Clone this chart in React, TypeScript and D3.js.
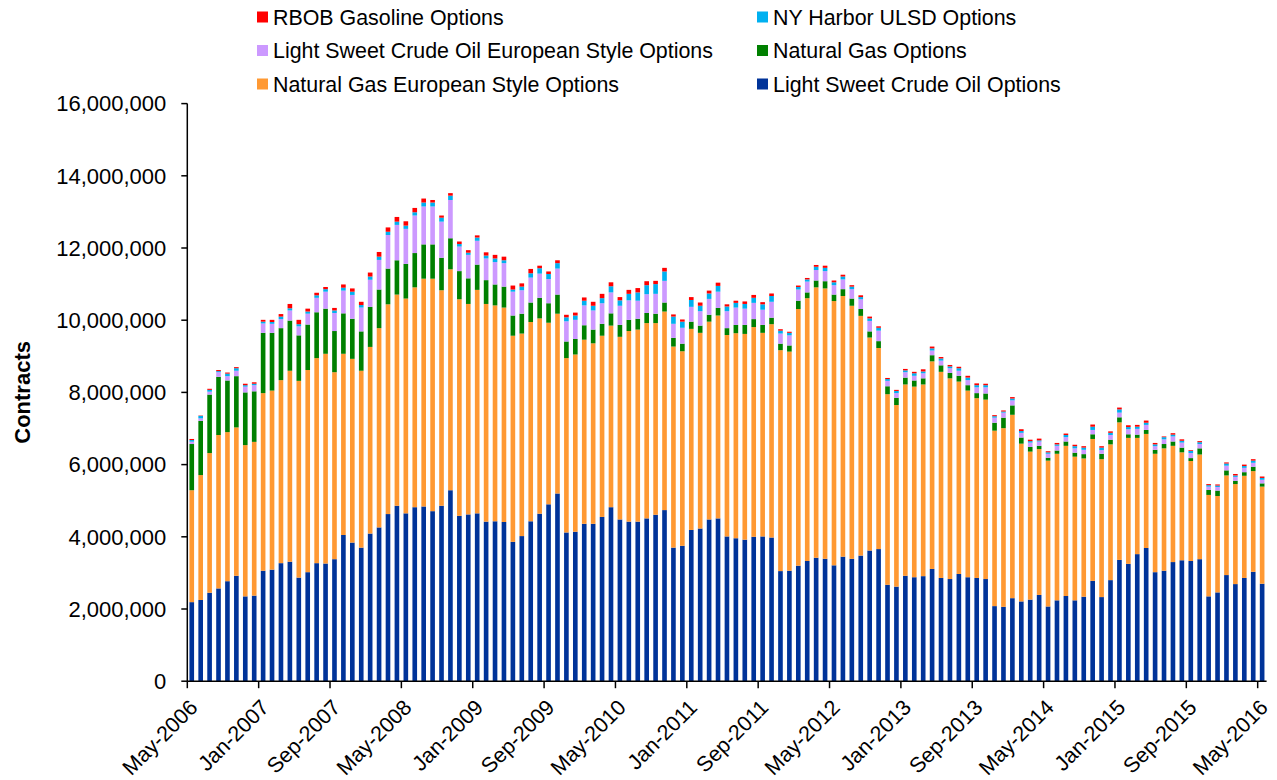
import * as d3 from "d3";

// monthly categories, May-2006 .. May-2016
const months = d3.timeMonth.range(new Date(2006, 4, 1), new Date(2016, 5, 1));
const tickLabels = [
  "May-2006", "Jan-2007", "Sep-2007", "May-2008", "Jan-2009", "Sep-2009",
  "May-2010", "Jan-2011", "Sep-2011", "May-2012", "Jan-2013", "Sep-2013",
  "May-2014", "Jan-2015", "Sep-2015", "May-2016",
];
const yTicks = [0, 2e6, 4e6, 6e6, 8e6, 10e6, 12e6, 14e6, 16e6];

// values in millions of contracts
const crudeOil = [
  2.19, 2.25, 2.45, 2.57, 2.77, 2.92, 2.35, 2.37, 3.06, 3.09, 3.27, 3.31, 2.87, 3.02, 3.27, 3.26, 3.38, 4.05, 3.84, 3.7,
  4.09, 4.26, 4.63, 4.86, 4.65, 4.82, 4.84, 4.71, 4.86, 5.29, 4.58, 4.62, 4.65, 4.42, 4.43, 4.41, 3.86, 4.02, 4.43, 4.64,
  4.9, 5.2, 4.12, 4.14, 4.36, 4.36, 4.55, 4.82, 4.48, 4.42, 4.42, 4.51, 4.61, 4.74, 3.7, 3.75, 4.19, 4.23, 4.48, 4.51, 4.01,
  3.96, 3.92, 4.0, 4.01, 3.98, 3.05, 3.06, 3.2, 3.33, 3.42, 3.39, 3.21, 3.45, 3.39, 3.48, 3.62, 3.66, 2.67, 2.62, 2.92,
  2.88, 2.91, 3.11, 2.86, 2.83, 2.97, 2.88, 2.86, 2.83, 2.08, 2.06, 2.3, 2.21, 2.26, 2.39, 2.07, 2.24, 2.36, 2.24, 2.34, 2.78,
  2.33, 2.8, 3.36, 3.25, 3.52, 3.69, 3.02, 3.06, 3.3, 3.35, 3.33, 3.38, 2.35, 2.46, 2.94, 2.69, 2.86, 3.03, 2.7,
];
const natGasEuro = [
  3.1, 3.46, 3.87, 4.25, 4.13, 4.11, 4.19, 4.26, 4.92, 4.96, 5.07, 5.29, 5.45, 5.6, 5.68, 5.81, 5.18, 5.02, 5.09, 4.9,
  5.17, 5.52, 5.81, 5.85, 5.95, 6.09, 6.31, 6.44, 5.97, 6.12, 6.0, 5.83, 6.19, 6.03, 5.98, 5.94, 5.71, 5.61, 5.52, 5.41,
  5.03, 4.98, 4.83, 4.91, 5.1, 5.0, 5.02, 5.03, 5.06, 5.28, 5.32, 5.41, 5.31, 5.5, 5.57, 5.39, 5.57, 5.42, 5.48, 5.62, 5.58,
  5.68, 5.7, 5.81, 5.64, 5.91, 6.12, 6.07, 7.11, 7.28, 7.49, 7.49, 7.32, 7.22, 7.01, 6.64, 5.9, 5.57, 5.28, 5.03, 5.3,
  5.28, 5.31, 5.75, 5.71, 5.56, 5.33, 5.17, 4.98, 4.97, 4.86, 4.95, 5.08, 4.37, 4.1, 4.04, 4.04, 4.06, 4.16, 3.98, 3.83, 3.93,
  3.82, 3.76, 3.81, 3.49, 3.22, 3.16, 3.28, 3.39, 3.22, 2.99, 2.77, 2.9, 2.81, 2.67, 2.76, 2.77, 2.83, 2.79, 2.69,
];
const natGas = [
  1.28, 1.5, 1.62, 1.61, 1.43, 1.42, 1.46, 1.4, 1.67, 1.6, 1.44, 1.39, 1.26, 1.26, 1.27, 1.25, 1.14, 1.12, 1.11, 1.09,
  1.11, 1.07, 0.99, 0.95, 0.96, 0.95, 0.95, 0.95, 0.9, 0.86, 0.78, 0.71, 0.7, 0.66, 0.58, 0.58, 0.56, 0.55, 0.54, 0.57,
  0.54, 0.53, 0.46, 0.43, 0.4, 0.38, 0.33, 0.34, 0.33, 0.31, 0.3, 0.28, 0.26, 0.25, 0.24, 0.21, 0.2, 0.2, 0.19, 0.21, 0.19,
  0.23, 0.25, 0.22, 0.22, 0.18, 0.18, 0.17, 0.23, 0.16, 0.19, 0.2, 0.18, 0.19, 0.2, 0.19, 0.17, 0.19, 0.22, 0.2, 0.19,
  0.17, 0.17, 0.17, 0.18, 0.15, 0.16, 0.15, 0.14, 0.17, 0.22, 0.29, 0.26, 0.17, 0.13, 0.09, 0.08, 0.09, 0.12, 0.11, 0.12, 0.13,
  0.15, 0.13, 0.14, 0.1, 0.09, 0.11, 0.11, 0.12, 0.12, 0.13, 0.08, 0.17, 0.14, 0.15, 0.14, 0.09, 0.1, 0.12, 0.09,
];
const crudeEuro = [
  0.065, 0.07, 0.08, 0.13, 0.12, 0.15, 0.16, 0.17, 0.26, 0.25, 0.25, 0.28, 0.25, 0.3, 0.4, 0.47, 0.5, 0.63, 0.66, 0.66,
  0.75, 0.82, 0.93, 0.98, 0.97, 1.04, 1.05, 1.05, 1.0, 1.06, 0.68, 0.65, 0.66, 0.6, 0.62, 0.65, 0.66, 0.65, 0.69, 0.67,
  0.67, 0.72, 0.56, 0.53, 0.55, 0.53, 0.57, 0.58, 0.53, 0.54, 0.5, 0.52, 0.55, 0.6, 0.39, 0.44, 0.41, 0.4, 0.44, 0.45, 0.47,
  0.48, 0.45, 0.45, 0.42, 0.44, 0.28, 0.28, 0.31, 0.3, 0.29, 0.28, 0.26, 0.27, 0.26, 0.27, 0.29, 0.29, 0.15, 0.13, 0.15,
  0.13, 0.14, 0.13, 0.13, 0.13, 0.14, 0.14, 0.16, 0.17, 0.14, 0.14, 0.14, 0.13, 0.12, 0.12, 0.11, 0.13, 0.12, 0.12, 0.12, 0.12,
  0.1, 0.13, 0.13, 0.14, 0.16, 0.14, 0.1, 0.13, 0.14, 0.14, 0.14, 0.12, 0.09, 0.1, 0.13, 0.11, 0.12, 0.11, 0.1,
];
const ulsd = [
  0.045, 0.07, 0.05, 0.03, 0.07, 0.07, 0.04, 0.04, 0.05, 0.05, 0.07, 0.06, 0.06, 0.06, 0.07, 0.07, 0.07, 0.08, 0.09, 0.07,
  0.09, 0.09, 0.09, 0.09, 0.09, 0.09, 0.11, 0.11, 0.11, 0.12, 0.07, 0.06, 0.09, 0.08, 0.1, 0.08, 0.06, 0.1, 0.12, 0.15,
  0.14, 0.15, 0.11, 0.12, 0.13, 0.13, 0.14, 0.17, 0.15, 0.18, 0.23, 0.25, 0.27, 0.26, 0.2, 0.17, 0.19, 0.15, 0.15, 0.16, 0.13,
  0.13, 0.13, 0.14, 0.15, 0.16, 0.08, 0.07, 0.07, 0.06, 0.09, 0.09, 0.08, 0.08, 0.07, 0.06, 0.07, 0.08, 0.05, 0.06, 0.05,
  0.07, 0.05, 0.06, 0.06, 0.05, 0.07, 0.07, 0.06, 0.06, 0.04, 0.03, 0.05, 0.05, 0.04, 0.03, 0.04, 0.04, 0.06, 0.06, 0.06, 0.09,
  0.07, 0.06, 0.09, 0.06, 0.06, 0.06, 0.05, 0.06, 0.05, 0.05, 0.06, 0.05, 0.04, 0.04, 0.06, 0.04, 0.05, 0.06, 0.05,
];
const rbob = [
  0.03, 0.01, 0.03, 0.03, 0.03, 0.03, 0.04, 0.04, 0.05, 0.06, 0.07, 0.12, 0.12, 0.08, 0.07, 0.06, 0.07, 0.09, 0.09, 0.09,
  0.11, 0.13, 0.12, 0.13, 0.12, 0.12, 0.11, 0.07, 0.06, 0.07, 0.07, 0.07, 0.06, 0.09, 0.1, 0.1, 0.11, 0.09, 0.12, 0.07,
  0.07, 0.08, 0.07, 0.08, 0.09, 0.11, 0.12, 0.11, 0.09, 0.11, 0.12, 0.11, 0.09, 0.1, 0.06, 0.06, 0.08, 0.09, 0.08, 0.09, 0.06,
  0.06, 0.07, 0.08, 0.06, 0.07, 0.04, 0.03, 0.04, 0.04, 0.05, 0.06, 0.05, 0.05, 0.04, 0.05, 0.05, 0.04, 0.03, 0.03, 0.04,
  0.04, 0.06, 0.05, 0.04, 0.04, 0.04, 0.05, 0.05, 0.04, 0.03, 0.03, 0.04, 0.05, 0.04, 0.05, 0.03, 0.04, 0.04, 0.04, 0.04, 0.06,
  0.04, 0.04, 0.05, 0.05, 0.05, 0.06, 0.04, 0.02, 0.04, 0.04, 0.02, 0.03, 0.03, 0.03, 0.03, 0.04, 0.04, 0.04, 0.04,
];

// bottom to top
const series = [
  { key: "crudeOil", name: "Light Sweet Crude Oil Options", color: "#003399", values: crudeOil },
  { key: "natGasEuro", name: "Natural Gas European Style Options", color: "#FF9933", values: natGasEuro },
  { key: "natGas", name: "Natural Gas Options", color: "#008000", values: natGas },
  { key: "crudeEuro", name: "Light Sweet Crude Oil European Style Options", color: "#CC99FF", values: crudeEuro },
  { key: "ulsd", name: "NY Harbor ULSD Options", color: "#00B0F0", values: ulsd },
  { key: "rbob", name: "RBOB Gasoline Options", color: "#FF0000", values: rbob },
];

// legend order as in the picture
const legendItems = [
  { key: "rbob", col: 0, row: 0 },
  { key: "crudeEuro", col: 0, row: 1 },
  { key: "natGasEuro", col: 0, row: 2 },
  { key: "ulsd", col: 1, row: 0 },
  { key: "natGas", col: 1, row: 1 },
  { key: "crudeOil", col: 1, row: 2 },
];

const W = 1277;
const H = 780;
const left = 187.3;
const right = 1266.6;
const top = 103.6;
const bottom = 681.2;
const font = "Arial, 'Liberation Sans', sans-serif";

export default function App() {
  const rows = months.map((m, i) => {
    const r: any = { i };
    series.forEach((s) => (r[s.key] = s.values[i] * 1e6));
    return r;
  });
  const stacked = d3.stack().keys(series.map((s) => s.key))(rows);

  const x = d3
    .scaleBand<number>()
    .domain(d3.range(months.length))
    .range([left, right])
    .paddingInner(0.48)
    .paddingOuter(0.24);
  const y = d3.scaleLinear().domain([0, 16e6]).range([bottom, top]);
  const fmt = d3.format(",");
  const edge = (i: number) => x(i)! - (x.step() - x.bandwidth()) / 2;

  return (
    <svg width={W} height={H} style={{ position: "absolute", left: 0, top: 0 }} fontFamily={font}>
      <rect width={W} height={H} fill="#fff" />
      {stacked.map((layer, li) => (
        <g key={layer.key} fill={series[li].color}>
          {layer.map((d, i) => (
            <rect
              key={i}
              x={x(i)}
              width={x.bandwidth()}
              y={y(d[1])}
              height={Math.max(0, y(d[0]) - y(d[1]))}
            />
          ))}
        </g>
      ))}

      {/* y axis */}
      <line x1={left} x2={left} y1={top} y2={bottom} stroke="#000" strokeWidth={1.5} />
      {yTicks.map((t) => (
        <g key={t} transform={`translate(0,${y(t)})`}>
          <line x1={left - 6} x2={left} stroke="#000" strokeWidth={1.5} />
          <text x={left - 21} dy="0.35em" textAnchor="end" fontSize={22} fill="#000">
            {fmt(t)}
          </text>
        </g>
      ))}
      <text
        transform={`translate(30,${(top + bottom) / 2}) rotate(-90)`}
        textAnchor="middle"
        fontSize={22}
        fontWeight="bold"
      >
        Contracts
      </text>

      {/* x axis */}
      <line x1={left} x2={right} y1={bottom} y2={bottom} stroke="#000" strokeWidth={1.5} />
      {tickLabels.map((lab, k) => {
        const px = edge(k * 8);
        return (
          <g key={lab} transform={`translate(${px},${bottom})`}>
            <line y1={0} y2={7} stroke="#000" strokeWidth={1.5} />
            <text
              transform="translate(1,17) rotate(-45)"
              textAnchor="end"
              dy="0.7em"
              fontSize={21.5}
              fill="#000"
            >
              {lab}
            </text>
          </g>
        );
      })}

      {/* legend */}
      {legendItems.map((it) => {
        const s = series.find((q) => q.key === it.key)!;
        const lx = it.col === 0 ? 257 : 757;
        const ly = 17 + it.row * 33.5;
        return (
          <g key={it.key} transform={`translate(${lx},${ly})`}>
            <rect x={0} y={-5.5} width={11} height={11} fill={s.color} />
            <text x={16} dy="0.36em" fontSize={21.4} fill="#000">
              {s.name}
            </text>
          </g>
        );
      })}
    </svg>
  );
}
